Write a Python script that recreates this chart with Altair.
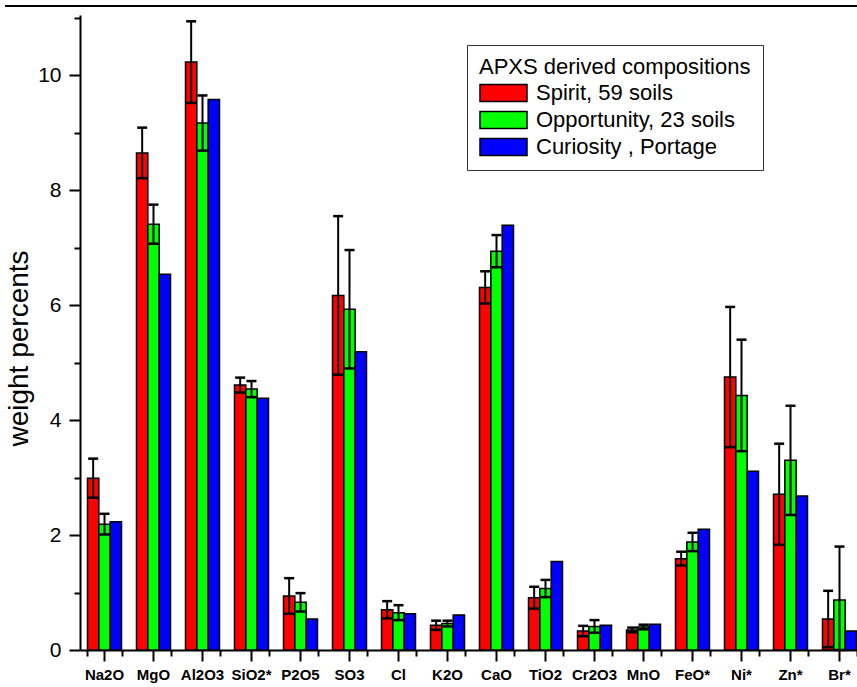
import altair as alt
import pandas as pd

FONT = "Liberation Sans, Arial, sans-serif"

oxides = ["Na2O", "MgO", "Al2O3", "SiO2*", "P2O5", "SO3", "Cl", "K2O",
          "CaO", "TiO2", "Cr2O3", "MnO", "FeO*", "Ni*", "Zn*", "Br*"]
series = ["Spirit, 59 soils", "Opportunity, 23 soils", "Curiosity , Portage"]
colors = ["#ff0000", "#00ff00", "#0000ff"]

spirit = [2.99, 8.65, 10.23, 4.61, 0.94, 6.17, 0.70, 0.43, 6.31, 0.91, 0.33, 0.35, 1.59, 4.75, 2.71, 0.54]
spirit_err = [0.34, 0.44, 0.71, 0.13, 0.31, 1.38, 0.15, 0.08, 0.28, 0.19, 0.09, 0.04, 0.12, 1.22, 0.88, 0.49]
opportunity = [2.19, 7.41, 9.17, 4.54, 0.83, 5.93, 0.65, 0.46, 6.94, 1.07, 0.41, 0.40, 1.88, 4.43, 3.30, 0.87]
opportunity_err = [0.18, 0.34, 0.48, 0.14, 0.16, 1.03, 0.13, 0.05, 0.28, 0.15, 0.11, 0.04, 0.16, 0.97, 0.95, 0.93]
curiosity = [2.23, 6.54, 9.58, 4.38, 0.54, 5.19, 0.63, 0.61, 7.39, 1.54, 0.43, 0.45, 2.10, 3.11, 2.68, 0.33]

y_major = [0, 2, 4, 6, 8, 10]
y_minor = [1, 3, 5, 7, 9, 11]

rows = []
for i, ox in enumerate(oxides):
    rows.append({"oxide": ox, "series": series[0], "value": spirit[i], "err": spirit_err[i]})
    rows.append({"oxide": ox, "series": series[1], "value": opportunity[i], "err": opportunity_err[i]})
    rows.append({"oxide": ox, "series": series[2], "value": curiosity[i], "err": None})
df = pd.DataFrame(rows)

W, H = 777, 635
x_scale = alt.Scale(domain=oxides, range=[0, 784], paddingInner=0.306, paddingOuter=0.153)
xo_scale = alt.Scale(domain=series, paddingInner=0, paddingOuter=0)
y_scale = alt.Scale(domain=[0, 11.05], nice=False, zero=True, clamp=True)

x_major_axis = alt.Axis(
    title=None, orient="bottom", labelAngle=0, labelFont=FONT, labelFontSize=15,
    labelFontWeight="bold", labelColor="black", labelPadding=6,
    tickSize=11, tickWidth=2, tickColor="black",
    domainColor="black", domainWidth=2, grid=False,
)
x_minor_axis = alt.Axis(
    title=None, orient="bottom", labels=False, domain=False, tickBand="extent",
    tickSize=6, tickWidth=2, tickColor="black", grid=False,
)
y_major_axis = alt.Axis(
    title="weight percents", orient="left", values=y_major, format="d",
    titleFont=FONT, titleFontSize=28, titleFontWeight="normal", titleColor="black",
    titleX=-47, titleY=333,
    labelFont=FONT, labelFontSize=21, labelColor="black", labelPadding=8,
    tickSize=11, tickWidth=2, tickColor="black",
    domainColor="black", domainWidth=2, grid=False,
)
y_minor_axis = alt.Axis(
    title=None, orient="left", values=y_minor, labels=False, domain=False,
    tickSize=6, tickWidth=2, tickColor="black", grid=False,
)

legend = alt.Legend(
    title="APXS derived compositions", orient="none", legendX=387, legendY=30,
    direction="vertical",
    titleFont=FONT, titleFontSize=22, titleFontWeight="normal", titleColor="black",
    titlePadding=3, titleLimit=500,
    labelFont=FONT, labelFontSize=22, labelColor="black", labelLimit=500, labelOffset=8,
    symbolType="M-1,-0.362L1,-0.362L1,0.362L-1,0.362Z", symbolSize=2209,
    symbolStrokeColor="black", symbolStrokeWidth=1.5, symbolOpacity=1,
    clipHeight=22, rowPadding=5, padding=12, strokeColor="#333333",
)

bars = alt.Chart(df).mark_bar(stroke="black", strokeWidth=1.5).encode(
    x=alt.X("oxide:N", scale=x_scale, axis=x_major_axis),
    xOffset=alt.XOffset("series:N", scale=xo_scale),
    y=alt.Y("value:Q", scale=y_scale, axis=y_major_axis),
    color=alt.Color("series:N", scale=alt.Scale(domain=series, range=colors), legend=legend),
)

err_base = alt.Chart(df).transform_filter("isValid(datum.err)").transform_calculate(
    lo="max(0, datum.value - datum.err)", hi="datum.value + datum.err"
)

err_rules = err_base.mark_rule(color="black", strokeWidth=2).encode(
    x=alt.X("oxide:N", scale=x_scale, axis=None),
    xOffset=alt.XOffset("series:N", scale=xo_scale),
    y=alt.Y("lo:Q", scale=y_scale, axis=None),
    y2="hi:Q",
)
cap_hi = err_base.mark_tick(color="black", thickness=2.5, size=10, opacity=1).encode(
    x=alt.X("oxide:N", scale=x_scale, axis=None),
    xOffset=alt.XOffset("series:N", scale=xo_scale),
    y=alt.Y("hi:Q", scale=y_scale, axis=None),
)
cap_lo = err_base.mark_tick(color="black", thickness=2.5, size=10, opacity=1).encode(
    x=alt.X("oxide:N", scale=x_scale, axis=None),
    xOffset=alt.XOffset("series:N", scale=xo_scale),
    y=alt.Y("lo:Q", scale=y_scale, axis=None),
)

minor = alt.Chart(df).mark_point(opacity=0).encode(
    x=alt.X("oxide:N", scale=x_scale, axis=x_minor_axis),
    y=alt.Y("value:Q", scale=y_scale, axis=y_minor_axis),
)

border = alt.Chart(pd.DataFrame({"k": [0]})).mark_rule(color="black", strokeWidth=2).encode(
    x=alt.value(-75), x2=alt.value(W), y=alt.value(-9)
)

chart = alt.layer(bars, err_rules, cap_hi, cap_lo, minor, border).resolve_axis(
    x="independent", y="independent"
).properties(
    width=W, height=H,
    padding={"left": 80, "top": 15, "right": 0, "bottom": 37},
    autosize=alt.AutoSizeParams(type="none"),
    background="white",
).configure_view(stroke=None)

chart.save("out.html", embed_options={"renderer": "svg", "actions": False})
